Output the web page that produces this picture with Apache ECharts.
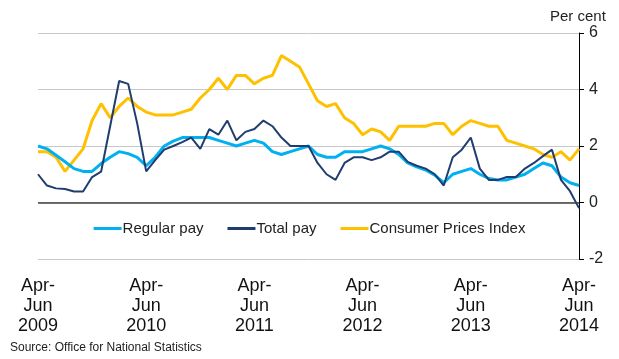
<!DOCTYPE html>
<html>
<head>
<meta charset="utf-8">
<script src="https://cdn.jsdelivr.net/npm/echarts@6/dist/echarts.min.js"></script>
<style>html,body{margin:0;padding:0;background:#fff}#c{width:619px;height:359px}</style>
</head>
<body>
<div id="c"></div>
<script>
const months = ['Jan','Feb','Mar','Apr','May','Jun','Jul','Aug','Sep','Oct','Nov','Dec'];
// Rolling three-month periods, Apr-Jun 2009 to Apr-Jun 2014
const categories = [];
for (let k = 0; k <= 60; k++) {
  const s = 3 + k, e = s + 2;
  categories.push(months[s % 12] + '-' + months[e % 12] + ' ' + (2009 + Math.floor(e / 12)));
}
const regularPay = [2.0,1.9,1.67,1.44,1.2,1.1,1.1,1.38,1.6,1.8,1.73,1.6,1.3,1.6,2.0,2.17,2.3,2.3,2.3,2.3,2.2,2.1,2.0,2.1,2.2,2.1,1.8,1.7,1.8,1.9,2.0,1.7,1.6,1.6,1.8,1.8,1.8,1.9,2.0,1.9,1.7,1.4,1.26,1.15,0.97,0.7,1.0,1.1,1.2,1.0,0.85,0.8,0.8,0.9,1.0,1.2,1.4,1.3,0.9,0.7,0.6];
const totalPay = [1.0,0.6,0.5,0.48,0.39,0.39,0.9,1.09,2.7,4.3,4.2,2.8,1.1,1.5,1.87,2.0,2.14,2.3,1.9,2.6,2.4,2.9,2.2,2.5,2.6,2.9,2.7,2.3,2.0,2.0,2.0,1.4,1.0,0.8,1.4,1.6,1.6,1.5,1.6,1.8,1.8,1.44,1.3,1.2,1.0,0.6,1.6,1.87,2.3,1.2,0.8,0.8,0.9,0.9,1.2,1.4,1.64,1.87,0.8,0.4,-0.2];
const cpi = [1.8,1.8,1.6,1.1,1.5,1.9,2.9,3.5,3.0,3.4,3.7,3.4,3.2,3.1,3.1,3.1,3.2,3.3,3.7,4.0,4.4,4.0,4.5,4.5,4.2,4.4,4.5,5.2,5.0,4.8,4.2,3.6,3.4,3.5,3.0,2.8,2.4,2.6,2.5,2.2,2.7,2.7,2.7,2.7,2.8,2.8,2.4,2.7,2.9,2.8,2.7,2.7,2.2,2.1,2.0,1.9,1.7,1.6,1.8,1.5,1.9];
const yTicks = [-2, 0, 2, 4, 6];
const seriesNames = ['Regular pay', 'Total pay', 'Consumer Prices Index'];

const chart = echarts.init(document.getElementById('c'), null, {renderer: 'canvas'});
const font = 'Liberation Sans, Arial, sans-serif';
chart.setOption({
  animation: false,
  backgroundColor: '#fff',
  grid: {left: 38, right: 40, top: 33, bottom: 100, containLabel: false},
  legend: {
    data: seriesNames,
    top: 216, left: 'center',
    icon: 'rect', itemWidth: 28, itemHeight: 3, itemGap: 24,
    textStyle: {fontFamily: font, fontSize: 15, color: '#222', padding: [0, 0, 0, -4]}
  },
  xAxis: {
    type: 'category', data: categories, boundaryGap: false,
    axisLine: {show: false, onZero: false}, axisTick: {show: false},
    splitLine: {show: false},
    axisLabel: {
      interval: 11, margin: 17, fontFamily: font, fontSize: 18, lineHeight: 20, color: '#111',
      formatter: v => { const p = v.split(' '); const m = p[0].split('-'); return m[0] + '-\n' + m[1] + '\n' + p[1]; }
    }
  },
  yAxis: {
    type: 'value', position: 'right', min: yTicks[0], max: yTicks[yTicks.length - 1], interval: 2,
    axisLine: {show: true, lineStyle: {color: '#000', width: 1}},
    axisTick: {show: true, inside: false, length: 5, lineStyle: {color: '#000'}},
    splitLine: {show: true, lineStyle: {color: '#c8c8c8', width: 1}},
    axisLabel: {margin: 10, fontFamily: font, fontSize: 16, color: '#222'}
  },
  graphic: [
    {type: 'text', left: 550, top: 9, style: {text: 'Per cent', font: '15px ' + font, fill: '#222'}},
    {type: 'text', left: 10, top: 342, style: {text: 'Source: Office for National Statistics', font: '12px ' + font, fill: '#222'}}
  ],
  series: [
    {name: seriesNames[0], type: 'line', data: regularPay, showSymbol: false, symbol: 'none',
     lineStyle: {color: '#00b0f0', width: 3}, itemStyle: {color: '#00b0f0'}, z: 3,
     markLine: {silent: true, symbol: 'none', label: {show: false}, data: [{yAxis: 0}],
       lineStyle: {color: '#404040', width: 1.5, type: 'solid'}}},
    {name: seriesNames[1], type: 'line', data: totalPay, showSymbol: false, symbol: 'none',
     lineStyle: {color: '#1f3d6e', width: 2}, itemStyle: {color: '#1f3d6e'}, z: 4},
    {name: seriesNames[2], type: 'line', data: cpi, showSymbol: false, symbol: 'none',
     lineStyle: {color: '#ffc000', width: 3}, itemStyle: {color: '#ffc000'}, z: 2}
  ]
});
</script>
</body>
</html>
